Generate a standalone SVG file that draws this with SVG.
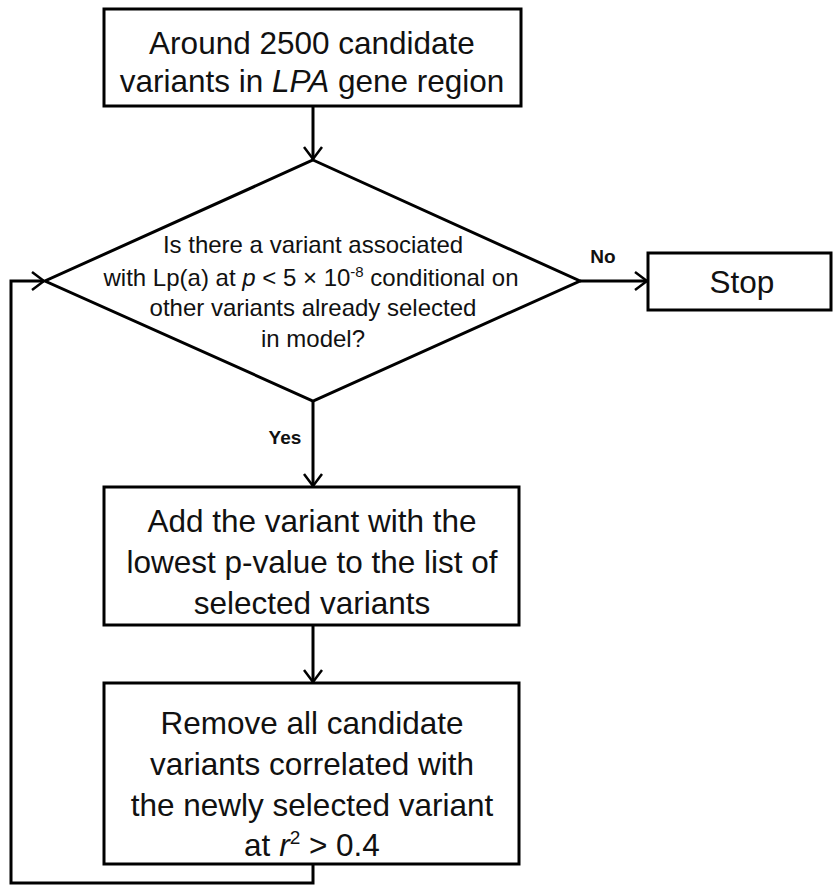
<svg xmlns="http://www.w3.org/2000/svg" width="833" height="890" viewBox="0 0 833 890">
<style>
.box{fill:#fff;stroke:#000;stroke-width:3}
.t{font-family:"Liberation Sans",Arial,sans-serif;font-size:31.5px;fill:#111;text-anchor:middle}
.d{font-family:"Liberation Sans",Arial,sans-serif;font-size:24px;fill:#111;text-anchor:middle}
.lbl{font-family:"Liberation Sans",Arial,sans-serif;font-size:19px;font-weight:bold;fill:#111;text-anchor:middle}
.c{fill:none;stroke:#000;stroke-width:3}
</style>
<defs>
<marker id="ah" viewBox="0 0 14 20" refX="13" refY="10" markerWidth="14" markerHeight="20" markerUnits="userSpaceOnUse" orient="auto">
<path d="M1,1 L13,10 L1,19" fill="none" stroke="#000" stroke-width="2.5"/>
</marker>
</defs>
<rect width="833" height="890" fill="#fff"/>
<g id="connectors">
<line class="c" x1="313" y1="107" x2="313" y2="159" marker-end="url(#ah)"/>
<line class="c" x1="580" y1="281" x2="647" y2="281" marker-end="url(#ah)"/>
<line class="c" x1="313" y1="401" x2="313" y2="486" marker-end="url(#ah)"/>
<line class="c" x1="313" y1="625" x2="313" y2="682" marker-end="url(#ah)"/>
<polyline class="c" points="313,864 313,883 11,883 11,281 44,281" marker-end="url(#ah)"/>
<text class="lbl" x="603" y="263">No</text>
<text class="lbl" x="285" y="444">Yes</text>
</g>
<g id="start">
<rect class="box" x="104" y="9" width="417" height="97"/>
<text class="t" x="312" y="54">Around 2500 candidate</text>
<text class="t" x="312" y="92">variants in <tspan font-style="italic">LPA</tspan> gene region</text>
</g>
<g id="decision">
<polygon class="box" points="313,160 580,281 313,401 45,281"/>
<text class="d" x="313" y="253">Is there a variant associated</text>
<text class="d" x="311" y="286">with Lp(a) at <tspan font-style="italic">p</tspan> &lt; 5 × 10<tspan font-size="15" dy="-9">-8</tspan><tspan dy="9"> conditional on</tspan></text>
<text class="d" x="313" y="316">other variants already selected</text>
<text class="d" x="313" y="347">in model?</text>
</g>
<g id="stop">
<rect class="box" x="648" y="253" width="183" height="57"/>
<text class="t" x="742" y="293">Stop</text>
</g>
<g id="add">
<rect class="box" x="104" y="487" width="415" height="138"/>
<text class="t" x="312" y="532">Add the variant with the</text>
<text class="t" x="312" y="573">lowest p-value to the list of</text>
<text class="t" x="312" y="614">selected variants</text>
</g>
<g id="remove">
<rect class="box" x="104" y="683" width="415" height="181"/>
<text class="t" x="312" y="734">Remove all candidate</text>
<text class="t" x="312" y="775">variants correlated with</text>
<text class="t" x="312" y="816">the newly selected variant</text>
<text class="t" x="312" y="856">at <tspan font-style="italic">r</tspan><tspan font-size="19" dy="-12">2</tspan><tspan dy="12"> &gt; 0.4</tspan></text>
</g>
</svg>
